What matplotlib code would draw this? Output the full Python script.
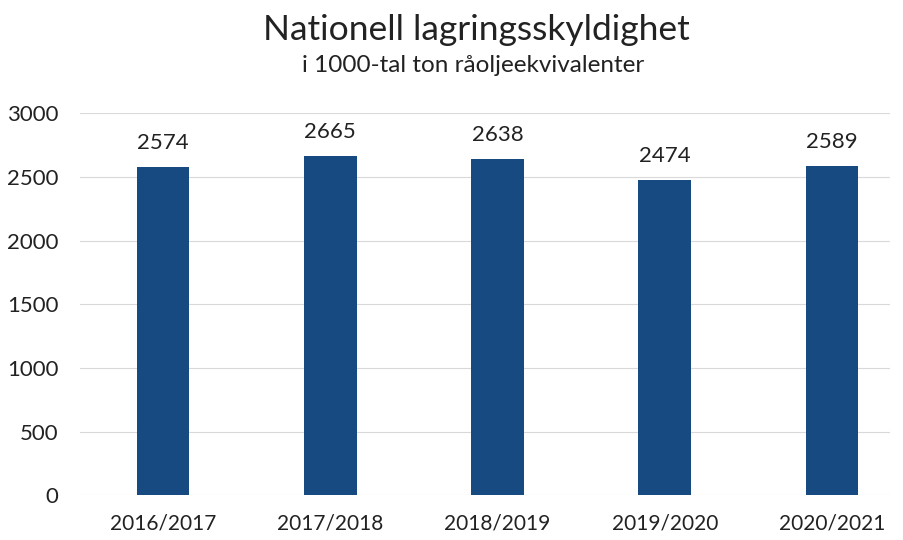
import matplotlib
matplotlib.use("Agg")
import matplotlib.pyplot as plt
import numpy as np

seasons = ["2016/2017", "2017/2018", "2018/2019", "2019/2020", "2020/2021"]
values = [2574, 2665, 2638, 2474, 2589]
yticks = [0, 500, 1000, 1500, 2000, 2500, 3000]

plt.rcParams["font.family"] = ["Lato", "DejaVu Sans"]

fig = plt.figure(figsize=(9.04, 5.4), dpi=100)
ax = fig.add_axes([0.088, 0.083, 0.897, 0.7074])

x = np.arange(len(seasons))
ax.bar(x, values, width=0.315, color="#174a80", zorder=2)
for xi, v in zip(x, values):
    ax.text(xi, v + 110, str(v), ha="center", va="bottom", fontsize=16, color="#222222")

ax.set_xlim(-0.5, len(seasons) - 0.65)
ax.set_ylim(0, 3000)
ax.set_yticks(yticks)
ax.set_xticks(x, seasons)
ax.grid(axis="y", color="#d9d9d9", linewidth=0.8, zorder=0)
ax.tick_params(length=0, labelsize=15, colors="#222222")
ax.tick_params(axis="y", labelsize=16, pad=15)
ax.tick_params(axis="x", pad=13)
for s in ax.spines.values():
    s.set_visible(False)

fig.text(0.527, 0.945, "Nationell lagringsskyldighet", ha="center", va="center",
         fontsize=25.5, color="#222222")
fig.text(0.523, 0.878, "i 1000-tal ton råoljeekvivalenter", ha="center", va="center",
         fontsize=17.5, color="#222222")

fig.savefig("out.png")
